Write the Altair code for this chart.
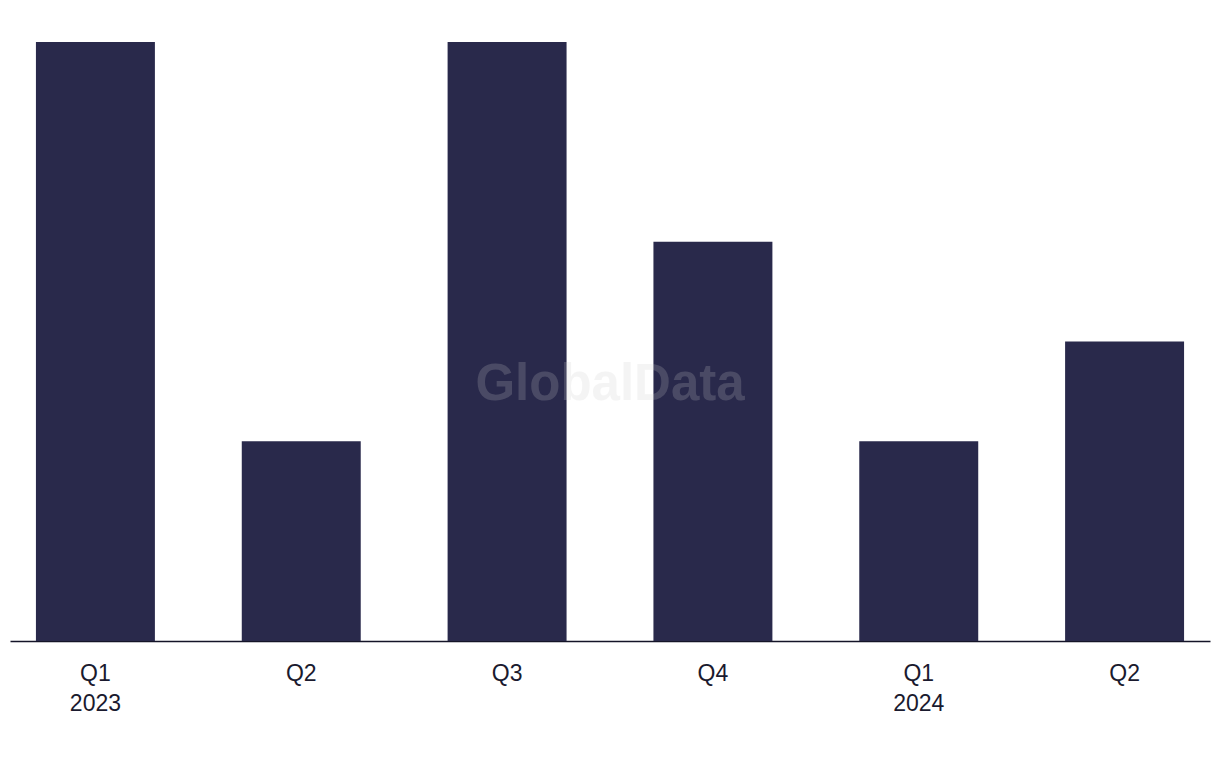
import altair as alt
import pandas as pd

periods = ["Q1 2023", "Q2 2023", "Q3 2023", "Q4 2023", "Q1 2024", "Q2 2024"]
values = [6, 2, 6, 4, 2, 3]

df = pd.DataFrame({"period": periods, "value": values})

bars = alt.Chart(df).mark_bar(color="#29294b").encode(
    x=alt.X(
        "period:N",
        sort=periods,
        title=None,
        scale=alt.Scale(paddingInner=0.422, paddingOuter=0.126),
        axis=alt.Axis(
            labelAngle=0,
            ticks=False,
            domainColor="#141428",
            domainWidth=1.5,
            labelFont="Liberation Sans",
            labelFontSize=23,
            labelColor="#1a1a2e",
            labelPadding=21,
            labelLineHeight=30,
            labelExpr="indexof(datum.value, 'Q1') == 0 ? split(datum.value, ' ') : slice(datum.value, 0, 2)",
        ),
    ),
    y=alt.Y("value:Q", scale=alt.Scale(domain=[0, 6], nice=False), axis=None),
)

watermark = alt.Chart(pd.DataFrame({"t": ["GlobalData"]})).mark_text(
    font="Liberation Sans",
    fontSize=51,
    fontWeight="bold",
    color="#cccccc",
    opacity=0.2,
    align="center",
    baseline="middle",
).encode(text="t:N", x=alt.value(600), y=alt.value(343))

chart = (
    alt.layer(bars, watermark)
    .properties(
        width=1200,
        height=599,
        background="white",
        padding={"left": 2, "top": 34, "right": 2, "bottom": 5},
    )
    .configure_view(strokeWidth=0, stroke="transparent")
)

chart.save("out.html", embed_options={"renderer": "svg", "actions": False})
